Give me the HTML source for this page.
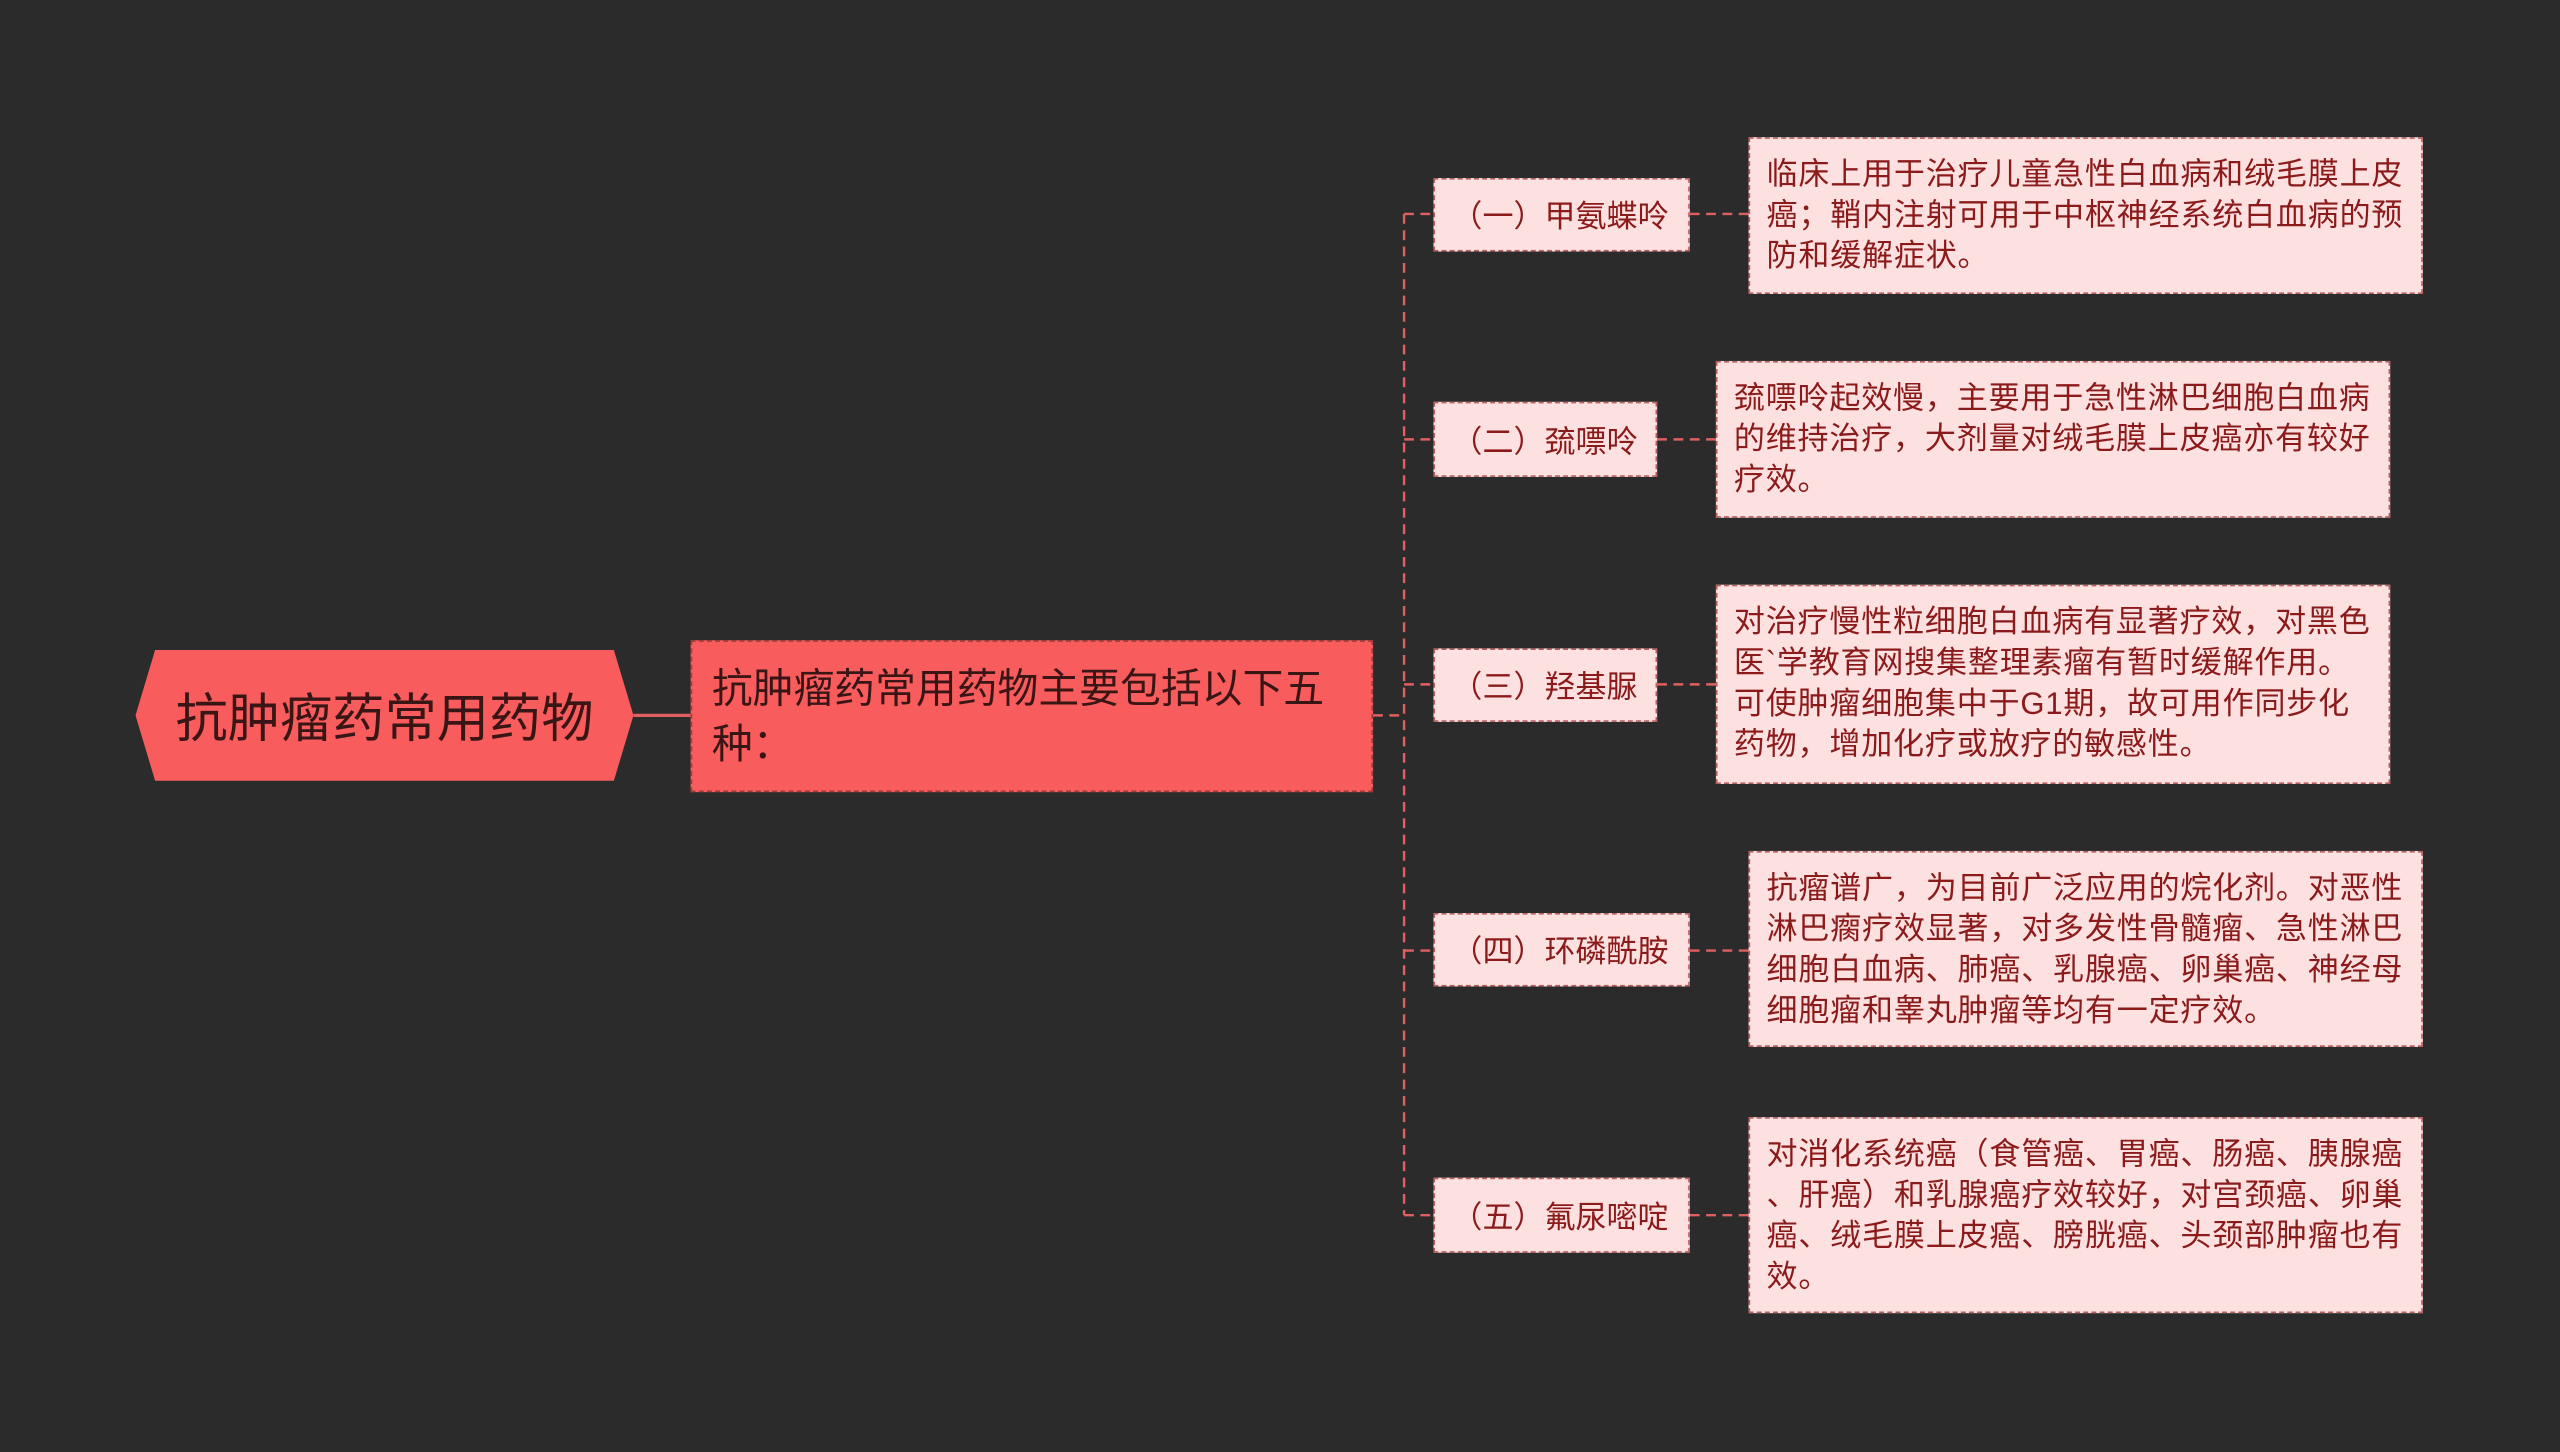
<!DOCTYPE html>
<html><head><meta charset="utf-8"><style>
html,body{margin:0;padding:0;background:#2b2b2b;width:2560px;height:1452px;overflow:hidden}
#s{position:absolute;left:0;top:0;width:1568px;height:889px;transform:scale(1.63265,1.6333);transform-origin:0 0;font-family:"Liberation Sans","Noto Sans CJK SC",sans-serif}
.b{position:absolute;box-sizing:border-box}
.n{background:#fde0e0;border:1px dashed #b86060;color:#8b1a1a;font-size:19px;display:flex;align-items:center;padding:0 10px;white-space:nowrap}
.l{background:#fde0e0;border:1px dashed #b86060;color:#8b1a1a;font-size:19px;letter-spacing:0.5px;line-height:25px;padding:10px 8px 10px 10px}
</style></head><body><div id="s">
<svg class="b" style="left:0;top:0" width="1568" height="889">
<polygon points="95,398 376,398 388,438 376,478 95,478 83,438" fill="#f95c5c"/>
<line x1="388" y1="438" x2="423" y2="438" stroke="#e06060" stroke-width="2"/>
<line x1="841" y1="438" x2="860" y2="438" stroke="#e06060" stroke-width="1.5" stroke-dasharray="6,4"/>
<line x1="860" y1="131" x2="860" y2="744" stroke="#e06060" stroke-width="1.5" stroke-dasharray="6,4"/>
<g stroke="#e06060" stroke-width="1.5" stroke-dasharray="6,4">
<line x1="860" y1="131" x2="878" y2="131"/><line x1="1035" y1="131" x2="1071" y2="131"/>
<line x1="860" y1="269" x2="878" y2="269"/><line x1="1015" y1="269" x2="1051" y2="269"/>
<line x1="860" y1="419" x2="878" y2="419"/><line x1="1015" y1="419" x2="1051" y2="419"/>
<line x1="860" y1="582" x2="878" y2="582"/><line x1="1035" y1="582" x2="1071" y2="582"/>
<line x1="860" y1="744" x2="878" y2="744"/><line x1="1035" y1="744" x2="1071" y2="744"/>
</g>
</svg>
<div class="b" style="left:83px;top:398px;width:305px;height:80px;display:flex;align-items:center;justify-content:center;font-size:32px;color:#3a1515">抗肿瘤药常用药物</div>
<div class="b" style="left:423px;top:392px;width:418px;height:93px;background:#f95c5c;border:1px dashed #a03c3c;color:#3a1515;font-size:25px;line-height:34px;padding:12px 12px">抗肿瘤药常用药物主要包括以下五种：</div>
<div class="b n" style="left:878px;top:109px;width:157px;height:45px">（一）甲氨蝶呤</div>
<div class="b n" style="left:878px;top:246px;width:137px;height:46px">（二）巯嘌呤</div>
<div class="b n" style="left:878px;top:397px;width:137px;height:45px">（三）羟基脲</div>
<div class="b n" style="left:878px;top:559px;width:157px;height:45px">（四）环磷酰胺</div>
<div class="b n" style="left:878px;top:721px;width:157px;height:46px">（五）氟尿嘧啶</div>
<div class="b l" style="left:1071px;top:84px;width:413px;height:96px">临床上用于治疗儿童急性白血病和绒毛膜上皮癌；鞘内注射可用于中枢神经系统白血病的预防和缓解症状。</div>
<div class="b l" style="left:1051px;top:221px;width:413px;height:96px">巯嘌呤起效慢，主要用于急性淋巴细胞白血病的维持治疗，大剂量对绒毛膜上皮癌亦有较好疗效。</div>
<div class="b l" style="left:1051px;top:358px;width:413px;height:122px">对治疗慢性粒细胞白血病有显著疗效，对黑色<br>医`学教育网搜集整理素瘤有暂时缓解作用。<br>可使肿瘤细胞集中于G1期，故可用作同步化<br>药物，增加化疗或放疗的敏感性。</div>
<div class="b l" style="left:1071px;top:521px;width:413px;height:120px">抗瘤谱广，为目前广泛应用的烷化剂。对恶性淋巴瘸疗效显著，对多发性骨髓瘤、急性淋巴细胞白血病、肺癌、乳腺癌、卵巢癌、神经母细胞瘤和睾丸肿瘤等均有一定疗效。</div>
<div class="b l" style="left:1071px;top:684px;width:413px;height:120px">对消化系统癌（食管癌、胃癌、肠癌、胰腺癌<br>、肝癌）和乳腺癌疗效较好，对宫颈癌、卵巢<br>癌、绒毛膜上皮癌、膀胱癌、头颈部肿瘤也有<br>效。</div>
</div></body></html>
